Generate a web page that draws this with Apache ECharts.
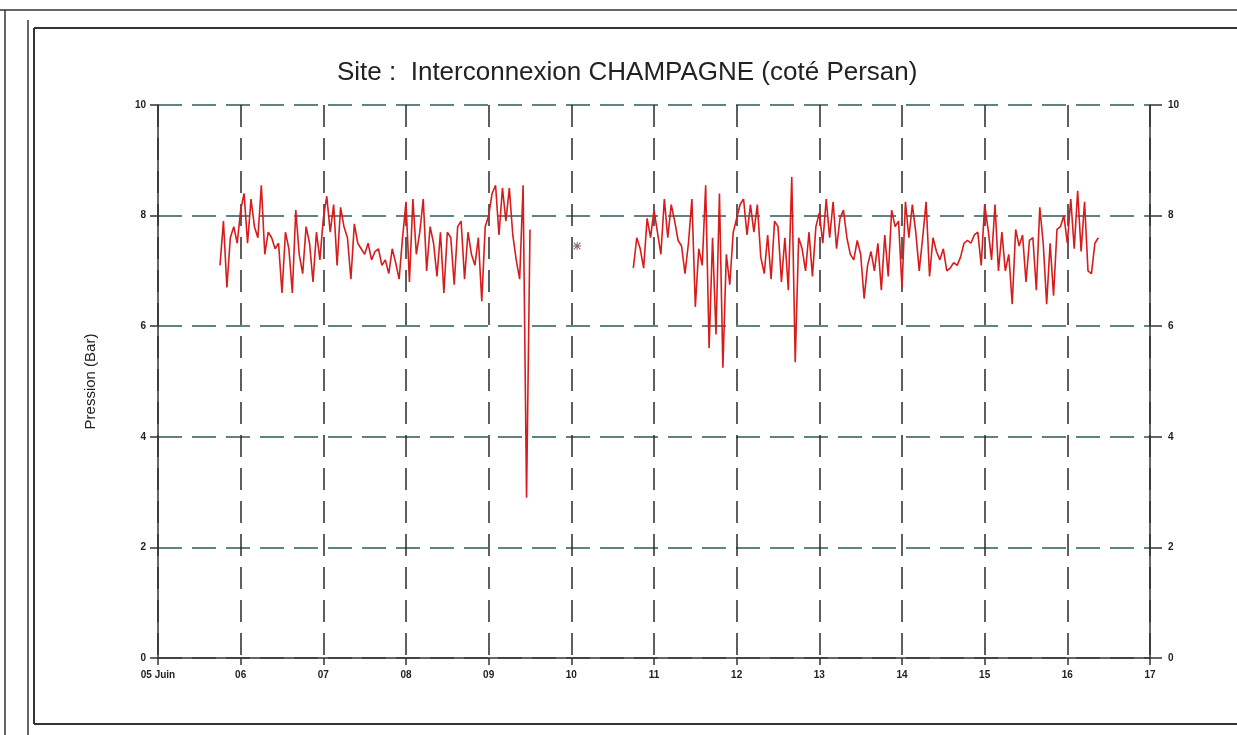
<!DOCTYPE html>
<html>
<head>
<meta charset="utf-8">
<script src="https://cdn.jsdelivr.net/npm/echarts@6/dist/echarts.min.js"></script>
<style>
html,body{margin:0;padding:0;background:#fff;}
#chart{width:1237px;height:735px;}
</style>
</head>
<body>
<div id="chart"></div>
<script>
// ---- DATA ----
var titleText = 'Site :  Interconnexion CHAMPAGNE (coté Persan)';
var yAxisName = 'Pression (Bar)';
// x axis: days counted from 05 Juin 00:00
var xTickLabels = ['05 Juin','06','07','08','09','10','11','12','13','14','15','16','17'];
var yTickValues = [0, 2, 4, 6, 8, 10];

// Hourly readings, first segment starting 05 Juin 18:00 (day 0.75)
var seg1StartDay = 0.75;
var seg1Values = [
  7.1, 7.9, 6.7, 7.6, 7.8, 7.5,
  8.1, 8.4, 7.5, 8.3, 7.8, 7.6, 8.55, 7.3,
  7.7, 7.6, 7.4, 7.5,
  6.6, 7.7, 7.4, 6.6, 8.1, 7.3, 6.95, 7.8, 7.5, 6.8, 7.7, 7.2, 7.95,
  8.35, 7.7, 8.2, 7.1, 8.15, 7.8, 7.6, 6.85, 7.85, 7.5, 7.4,
  7.3, 7.5, 7.2, 7.35, 7.4, 7.1, 7.2, 6.95, 7.4, 7.15, 6.85, 7.6,
  8.25, 6.8, 8.3, 7.3, 7.7, 8.3, 7.0, 7.8, 7.5, 6.9, 7.7, 6.6, 7.7, 7.6, 6.75, 7.8, 7.9, 6.85, 7.7, 7.3, 7.1, 7.6, 6.45, 7.8, 8.0,
  8.4, 8.55, 7.65, 8.5, 7.9, 8.5, 7.65, 7.2, 6.85, 8.55, 2.9, 7.75
];

// Hourly readings, second segment starting 10 Juin 18:00 (day 5.75)
var seg2StartDay = 5.75;
var seg2Values = [
  7.05, 7.6, 7.4, 7.05, 7.95, 7.6, 8.1, 7.7, 7.3, 8.3, 7.6, 8.2, 7.9, 7.55, 7.45, 6.95, 7.5, 8.3, 6.35, 7.4,
  7.1, 8.55, 5.6, 7.6, 5.85, 8.4, 5.25, 7.3, 6.75, 7.7, 7.95,
  8.2, 8.3, 7.65, 8.2, 7.7, 8.2, 7.25, 6.95, 7.65, 6.85, 7.9, 7.8, 6.8, 7.6, 6.65, 8.7, 5.35, 7.6, 7.4, 7.0, 7.7,
  6.9, 7.8, 8.05, 7.5, 8.3, 7.6, 8.25, 7.4, 7.95, 8.1, 7.6, 7.3, 7.2, 7.55,
  7.3, 6.5, 7.1, 7.35, 7.0, 7.5, 6.65,
  7.65, 6.9, 8.1, 7.8, 7.9, 6.7, 8.25, 7.6, 8.2, 7.7,
  7.0, 7.6, 8.25, 6.9, 7.6, 7.35, 7.2, 7.4, 7.0, 7.05,
  7.15, 7.1, 7.25, 7.5, 7.55, 7.5, 7.65, 7.7, 7.1, 8.2,
  7.75, 7.2, 8.2, 7.0, 7.7, 7.0, 7.3, 6.4, 7.75, 7.45,
  7.65, 6.8, 7.55, 7.6, 6.65, 8.15, 7.5, 6.4, 7.5, 6.55,
  7.75, 7.8, 8.0, 7.5, 8.3, 7.4, 8.45, 7.35, 8.25, 7.0,
  6.95, 7.5, 7.6
];

// Isolated reading marked with an asterisk (10 Juin ~01:40)
var isolatedDay = [5.07];
var isolatedValue = [7.45];

// ---- BUILD ----
var lineData = [];
seg1Values.forEach(function (v, i) { lineData.push([seg1StartDay + i / 24, v]); });
lineData.push([(seg1StartDay + seg1Values.length / 24 + seg2StartDay) / 2, null]);
seg2Values.forEach(function (v, i) { lineData.push([seg2StartDay + i / 24, v]); });
var pointData = isolatedDay.map(function (d, i) { return [d, isolatedValue[i]]; });

var chart = echarts.init(document.getElementById('chart'), null, {renderer: 'canvas'});
var FONT = '"Liberation Sans", Arial, sans-serif';
var yLabelFmt = function (v) { return yTickValues.indexOf(v) >= 0 ? String(v) : ''; };

var option = {
  animation: false,
  backgroundColor: '#ffffff',
  title: {
    text: titleText,
    left: 332,
    top: 55,
    textStyle: {fontFamily: FONT, fontSize: 26, fontWeight: 'normal', color: '#222'}
  },
  grid: {left: 158, right: 87, top: 105, bottom: 77, containLabel: false},
  xAxis: {
    type: 'value', min: 0, max: 12, interval: 1,
    axisLine: {show: true, onZero: false, lineStyle: {color: '#333', width: 1.5}},
    axisTick: {show: true, length: 7, lineStyle: {color: '#333', width: 1.5}},
    axisLabel: {
      margin: 12, fontFamily: FONT, fontSize: 10, fontWeight: 'bold', color: '#222',
      formatter: function (v) { return xTickLabels[Math.round(v)]; }
    },
    splitLine: {show: true, lineStyle: {color: '#2a2a2a', width: 1.5, type: [22, 11]}}
  },
  yAxis: [
    {
      type: 'value', position: 'left', min: 0, max: 10, interval: 2,
      name: yAxisName, nameLocation: 'middle', nameGap: 60,
      nameTextStyle: {fontFamily: FONT, fontSize: 15, color: '#222'},
      axisLine: {show: true, lineStyle: {color: '#333', width: 1.5}},
      axisTick: {show: true, length: 8, lineStyle: {color: '#333', width: 1.5}},
      axisLabel: {margin: 12, fontFamily: FONT, fontSize: 10, fontWeight: 'bold', color: '#222', formatter: yLabelFmt},
      splitLine: {show: true, lineStyle: {color: '#2c5a58', width: 1.5, type: [24, 10]}}
    },
    {
      type: 'value', position: 'right', min: 0, max: 10, interval: 2,
      axisLine: {show: true, lineStyle: {color: '#333', width: 1.5}},
      axisTick: {show: true, length: 12, lineStyle: {color: '#333', width: 1.5}},
      axisLabel: {margin: 18, fontFamily: FONT, fontSize: 10, fontWeight: 'bold', color: '#222', formatter: yLabelFmt},
      splitLine: {show: false}
    }
  ],
  series: [
    {
      type: 'line', xAxisIndex: 0, yAxisIndex: 0,
      data: lineData, showSymbol: false, symbol: 'none', connectNulls: false,
      lineStyle: {color: '#d81c1c', width: 1.6},
      z: 5
    },
    {
      type: 'scatter', xAxisIndex: 0, yAxisIndex: 0,
      data: pointData,
      symbol: 'path://M4.4,0h1.2v10h-1.2z M0,4.4h10v1.2h-10z M1.2,0.4L9.6,8.8 8.8,9.6 0.4,1.2Z M8.8,0.4 9.6,1.2 1.2,9.6 0.4,8.8Z',
      symbolSize: 8,
      itemStyle: {color: '#6a3a3a'},
      z: 6
    }
  ],
  graphic: [
    {type: 'line', shape: {x1: 0, y1: 10, x2: 1237, y2: 10}, style: {stroke: '#333', lineWidth: 1.5}},
    {type: 'line', shape: {x1: 5, y1: 10, x2: 5, y2: 735}, style: {stroke: '#333', lineWidth: 1.5}},
    {type: 'line', shape: {x1: 28, y1: 20, x2: 28, y2: 735}, style: {stroke: '#333', lineWidth: 1.5}},
    {type: 'line', shape: {x1: 34, y1: 28, x2: 1237, y2: 28}, style: {stroke: '#333', lineWidth: 2}},
    {type: 'line', shape: {x1: 34, y1: 28, x2: 34, y2: 724}, style: {stroke: '#333', lineWidth: 2}},
    {type: 'line', shape: {x1: 34, y1: 724, x2: 1237, y2: 724}, style: {stroke: '#333', lineWidth: 2}}
  ]
};
chart.setOption(option);
</script>
</body>
</html>
